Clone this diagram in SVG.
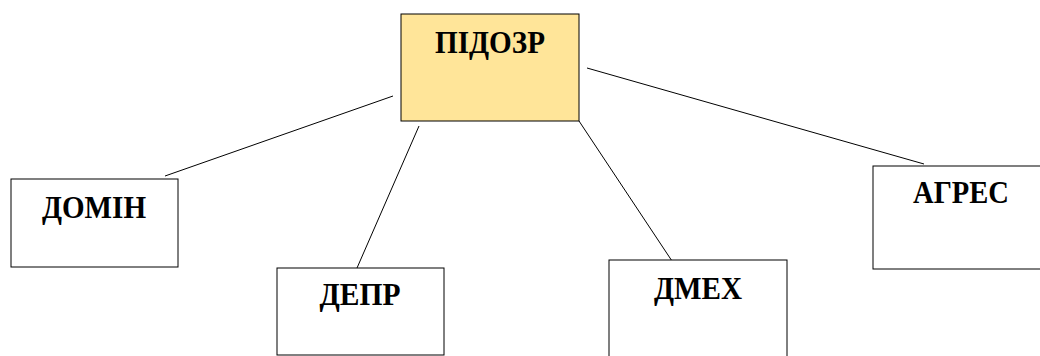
<svg xmlns="http://www.w3.org/2000/svg" width="1040" height="356" viewBox="0 0 1040 356">
<style>
.box{fill:#ffffff;stroke:#000000;stroke-width:1}
.main{fill:#ffe599;stroke:#000000;stroke-width:1}
.lbl{font-family:"Liberation Serif","Times New Roman",serif;font-weight:bold;font-size:31.5px;fill:#000000;text-anchor:middle}
.conn line{stroke:#000000;stroke-width:1}
</style>
<rect width="1040" height="356" fill="#ffffff"/>
<g id="connectors" class="conn">
<line x1="165" y1="176" x2="393" y2="96"/>
<line x1="357" y1="268" x2="419" y2="126"/>
<line x1="579" y1="121" x2="672" y2="261"/>
<line x1="587" y1="68" x2="924" y2="164"/>
</g>
<g id="node-pidozr">
<rect class="main" x="401" y="14" width="178" height="107"/>
<text class="lbl" x="490" y="53" textLength="110" lengthAdjust="spacingAndGlyphs">ПІДОЗР</text>
</g>
<g id="node-domin">
<rect class="box" x="11" y="179" width="167" height="88"/>
<text class="lbl" x="94" y="218" textLength="104" lengthAdjust="spacingAndGlyphs">ДОМІН</text>
</g>
<g id="node-depr">
<rect class="box" x="277" y="268" width="167" height="87"/>
<text class="lbl" x="360" y="305" textLength="81" lengthAdjust="spacingAndGlyphs">ДЕПР</text>
</g>
<g id="node-dmex">
<rect class="box" x="609" y="260" width="178" height="110"/>
<text class="lbl" x="698" y="299" textLength="88" lengthAdjust="spacingAndGlyphs">ДМЕХ</text>
</g>
<g id="node-agres">
<rect class="box" x="873" y="166" width="180" height="103"/>
<text class="lbl" x="961" y="203" textLength="96" lengthAdjust="spacingAndGlyphs">АГРЕС</text>
</g>
</svg>
